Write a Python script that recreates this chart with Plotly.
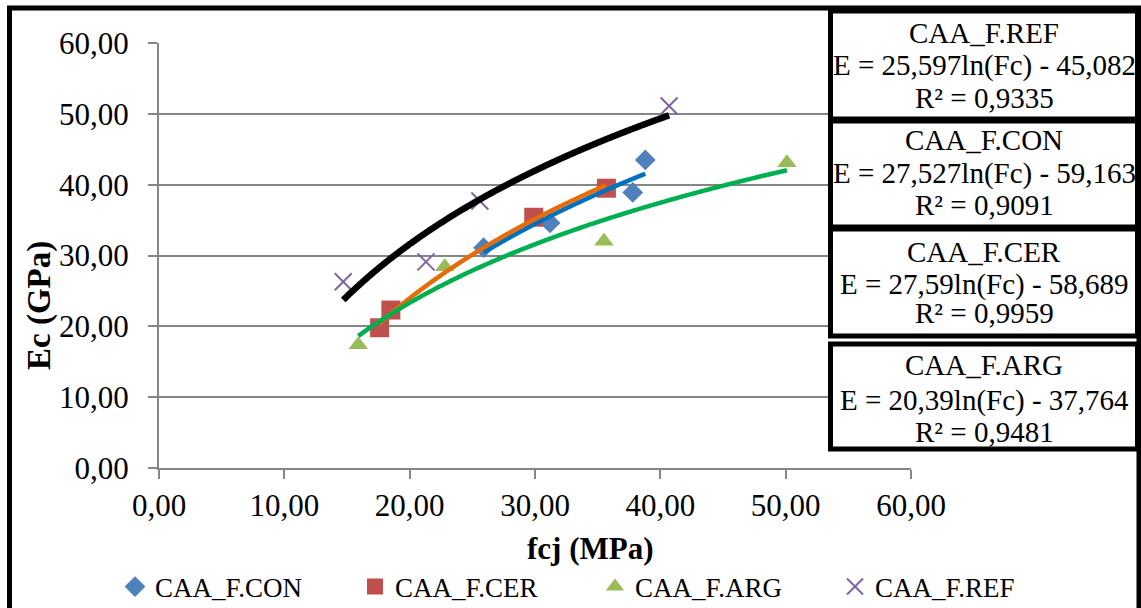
import numpy as np
import plotly.graph_objects as go

# ---------------- data ----------------
series_names = ["CAA_F.CON", "CAA_F.CER", "CAA_F.ARG", "CAA_F.REF"]

con_fc = [25.9, 31.2, 37.8, 38.8]
con_ec = [31.1, 34.6, 38.9, 43.5]

cer_fc = [17.6, 18.5, 29.9, 35.7]
cer_ec = [19.8, 22.3, 35.4, 39.5]

arg_fc = [15.9, 22.8, 35.5, 50.1]
arg_ec = [17.4, 28.4, 32.0, 43.1]

ref_fc = [14.7, 21.3, 25.6, 40.7]
ref_ec = [26.3, 29.1, 37.7, 51.1]

# logarithmic trendlines E = a*ln(Fc) + b (as printed on the chart)
fit_a = {"CAA_F.REF": 25.597, "CAA_F.CON": 27.527, "CAA_F.CER": 27.59, "CAA_F.ARG": 20.39}
fit_b = {"CAA_F.REF": -45.082, "CAA_F.CON": -59.163, "CAA_F.CER": -58.689, "CAA_F.ARG": -37.764}
fit_r2 = {"CAA_F.REF": "0,9335", "CAA_F.CON": "0,9091", "CAA_F.CER": "0,9959", "CAA_F.ARG": "0,9481"}
fit_eq = {"CAA_F.REF": "E = 25,597ln(Fc) - 45,082",
          "CAA_F.CON": "E = 27,527ln(Fc) - 59,163",
          "CAA_F.CER": "E = 27,59ln(Fc) - 58,689",
          "CAA_F.ARG": "E = 20,39ln(Fc) - 37,764"}

x_ticks = [0, 10, 20, 30, 40, 50, 60]
y_ticks = [0, 10, 20, 30, 40, 50, 60]

# ---------------- styling ----------------
FONT = "Liberation Serif"
W, H = 1141, 608
L, R, T, B = 159, 230, 43, 140
PW, PH = W - L - R, H - T - B


def px2x(px):
    return (px - L) / PW


def px2y(py):
    return (H - B - py) / PH


data = {
    "CAA_F.CON": (con_fc, con_ec),
    "CAA_F.CER": (cer_fc, cer_ec),
    "CAA_F.ARG": (arg_fc, arg_ec),
    "CAA_F.REF": (ref_fc, ref_ec),
}
markers = {
    "CAA_F.CON": dict(symbol="diamond", size=16, color="#4F81BD"),
    "CAA_F.CER": dict(symbol="square", size=19, color="#C0504D"),
    "CAA_F.ARG": dict(symbol="triangle-up", size=17, color="#9BBB59"),
    "CAA_F.REF": dict(symbol="x-thin", size=17, color="#8064A2",
                      line=dict(color="#8064A2", width=2)),
}
line_styles = {
    "CAA_F.REF": dict(color="#000000", width=6.5),
    "CAA_F.CON": dict(color="#0070C0", width=4.5),
    "CAA_F.CER": dict(color="#E46C0A", width=4.5),
    "CAA_F.ARG": dict(color="#00B050", width=4.5),
}

fig = go.Figure()

for name in series_names:
    xs, ys = data[name]
    fig.add_trace(go.Scatter(x=xs, y=ys, mode="markers", name=name,
                             marker=markers[name], showlegend=True))

for name in ["CAA_F.REF", "CAA_F.CON", "CAA_F.CER", "CAA_F.ARG"]:
    xs, _ = data[name]
    xx = np.linspace(min(xs), max(xs), 200)
    yy = fit_a[name] * np.log(xx) + fit_b[name]
    fig.add_trace(go.Scatter(x=xx, y=yy, mode="lines", line=line_styles[name],
                             line_shape="spline", showlegend=False, hoverinfo="skip"))

shapes = []
# outer frame
shapes.append(dict(type="rect", xref="paper", yref="paper",
                   x0=px2x(9.5), x1=px2x(1139), y0=px2y(630), y1=px2y(8),
                   line=dict(color="black", width=5), fillcolor="rgba(0,0,0,0)", layer="above"))

boxes = [
    ("CAA_F.REF", 11, 119, [33, 66, 98]),
    ("CAA_F.CON", 121, 227, [140, 173, 205]),
    ("CAA_F.CER", 229, 336, [252, 284, 313]),
    ("CAA_F.ARG", 344, 449, [365, 400, 432]),
]
annotations = []
for name, top, bot, ys_txt in boxes:
    shapes.append(dict(type="rect", xref="paper", yref="paper",
                       x0=px2x(830.5), x1=px2x(1137.5), y0=px2y(bot), y1=px2y(top),
                       line=dict(color="black", width=5), fillcolor="white", layer="above"))
    texts = [name, fit_eq[name], "R² = " + fit_r2[name]]
    for t, yy in zip(texts, ys_txt):
        annotations.append(dict(text=t, xref="paper", yref="paper",
                                x=px2x(984), y=px2y(yy), xanchor="center", yanchor="middle",
                                showarrow=False, font=dict(family=FONT, size=29, color="black")))

# axis titles
annotations.append(dict(text="<b>Ec (GPa)</b>", xref="paper", yref="paper",
                        x=px2x(39), y=px2y(306), textangle=-90, xanchor="center", yanchor="middle",
                        showarrow=False, font=dict(family=FONT, size=33, color="black")))
annotations.append(dict(text="<b>fcj (MPa)</b>", xref="paper", yref="paper",
                        x=px2x(590), y=px2y(548), xanchor="center", yanchor="middle",
                        showarrow=False, font=dict(family=FONT, size=31, color="black")))

axis_common = dict(
    zeroline=False, showline=True, linecolor="#868686", linewidth=2,
    ticks="outside", ticklen=9, tickcolor="#868686", tickwidth=2,
    tickformat=".2f", tickfont=dict(family=FONT, size=31, color="black"),
    range=[0, 60],
)

ENTRY_W = 195
fig.update_layout(
    width=W, height=H,
    margin=dict(l=L, r=R, t=T, b=B, autoexpand=False),
    paper_bgcolor="white", plot_bgcolor="white",
    separators=",.",
    xaxis=dict(**axis_common, tickvals=x_ticks, showgrid=False, ticklabelstandoff=0),
    yaxis=dict(**axis_common, tickvals=y_ticks, showgrid=True, gridcolor="#868686",
               gridwidth=2, ticklabelstandoff=13),
    showlegend=True,
    legend=dict(orientation="h", x=px2x(120 + 4 * (ENTRY_W + 40) + 15), y=px2y(587),
                xanchor="right", yanchor="middle",
                font=dict(family=FONT, size=27, color="black"),
                entrywidth=ENTRY_W, entrywidthmode="pixels", itemwidth=30,
                bgcolor="rgba(0,0,0,0)", tracegroupgap=0),
    shapes=shapes,
    annotations=annotations,
)

fig.write_html("out.html", config={"displayModeBar": False},
               post_script="document.body.style.margin='0px';")
